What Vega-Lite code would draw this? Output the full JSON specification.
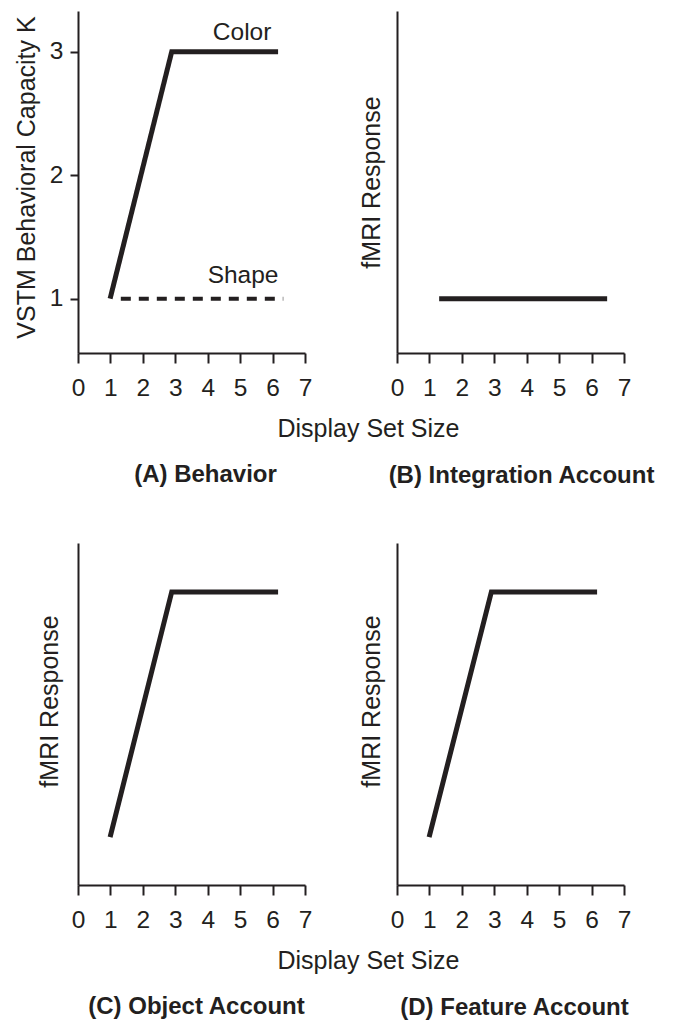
{
  "$schema": "https://vega.github.io/schema/vega-lite/v6.json",
  "background": "white",
  "padding": {"left": 14, "top": 11, "right": 5, "bottom": 5},
  "config": {
    "view": {"stroke": null},
    "font": "Liberation Sans, Arial, sans-serif",
    "axis": {
      "grid": false,
      "domainColor": "#231f20",
      "domainWidth": 2,
      "tickColor": "#231f20",
      "tickWidth": 2,
      "labelColor": "#231f20",
      "labelFont": "Liberation Sans, Arial, sans-serif",
      "labelFontSize": 24.5,
      "labelFlush": false,
      "labelOverlap": false,
      "titleColor": "#231f20",
      "titleFont": "Liberation Sans, Arial, sans-serif",
      "titleFontSize": 25,
      "titleFontWeight": "normal",
      "titleBaseline": "middle"
    },
    "title": {
      "font": "Liberation Sans, Arial, sans-serif",
      "fontSize": 24,
      "fontWeight": "bold",
      "color": "#231f20",
      "orient": "bottom",
      "anchor": "middle"
    }
  },
  "datasets": {
    "lines": [
      {"panel": "A", "series": "Color", "order": 1, "x": 0.99, "y": 1.0},
      {"panel": "A", "series": "Color", "order": 2, "x": 2.89, "y": 3.0},
      {"panel": "A", "series": "Color", "order": 3, "x": 6.17, "y": 3.0},
      {"panel": "A", "series": "Shape", "order": 1, "x": 1.32, "y": 1.0},
      {"panel": "A", "series": "Shape", "order": 2, "x": 6.33, "y": 1.0},
      {"panel": "B", "series": "Integration", "order": 1, "x": 1.3, "y": 1.0},
      {"panel": "B", "series": "Integration", "order": 2, "x": 6.48, "y": 1.0},
      {"panel": "C", "series": "Object", "order": 1, "x": 0.99, "y": 1.4},
      {"panel": "C", "series": "Object", "order": 2, "x": 2.89, "y": 8.57},
      {"panel": "C", "series": "Object", "order": 3, "x": 6.17, "y": 8.57},
      {"panel": "D", "series": "Feature", "order": 1, "x": 0.99, "y": 1.4},
      {"panel": "D", "series": "Feature", "order": 2, "x": 2.91, "y": 8.57},
      {"panel": "D", "series": "Feature", "order": 3, "x": 6.17, "y": 8.57}
    ],
    "labels": [
      {"panel": "A", "label": "Color", "x": 5.06, "y": 3.155},
      {"panel": "A", "label": "Shape", "x": 5.09, "y": 1.18}
    ]
  },
  "columns": 2,
  "bounds": "flush",
  "spacing": {"row": 190, "column": 92},
  "concat": [
    {
      "width": 227,
      "height": 342,
      "title": {"text": "(A) Behavior", "dx": 14, "dy": 18},
      "layer": [
        {
          "data": {"name": "lines"},
          "transform": [{"filter": "datum.panel === 'A'"}],
          "mark": {"type": "line", "color": "#231f20", "strokeCap": "butt"},
          "encoding": {
            "x": {"field": "x", "type": "quantitative", "scale": {"domain": [0, 7], "nice": false, "zero": false},
                  "axis": {"values": [0, 1, 2, 3, 4, 5, 6, 7], "format": "d", "tickSize": 10, "labelPadding": 13, "title": "Display Set Size", "titleX": 290, "titleY": 75, "titleAlign": "center"}},
            "y": {"field": "y", "type": "quantitative", "scale": {"domain": [0.56, 3.33], "nice": false, "zero": false},
                  "axis": {"values": [1, 2, 3], "format": "d", "tickSize": 8, "labelPadding": 7, "title": "VSTM Behavioral Capacity K", "titleX": -52, "titleY": 166, "titleAlign": "center"}},
            "order": {"field": "order"},
            "detail": {"field": "series"},
            "strokeDash": {"field": "series", "type": "nominal", "scale": {"domain": ["Color", "Shape"], "range": [[1, 0], [10, 8]]}, "legend": null},
            "strokeWidth": {"field": "series", "type": "nominal", "scale": {"domain": ["Color", "Shape"], "range": [5, 4]}, "legend": null}
          }
        },
        {
          "data": {"name": "labels"},
          "mark": {"type": "text", "color": "#231f20", "fontSize": 24.5, "baseline": "middle", "align": "center"},
          "encoding": {
            "x": {"field": "x", "type": "quantitative",
                  "axis": {"values": [0, 1, 2, 3, 4, 5, 6, 7], "format": "d", "tickSize": 10, "labelPadding": 13, "title": "Display Set Size", "titleX": 290, "titleY": 75, "titleAlign": "center"}},
            "y": {"field": "y", "type": "quantitative",
                  "axis": {"values": [1, 2, 3], "format": "d", "tickSize": 8, "labelPadding": 7, "title": "VSTM Behavioral Capacity K", "titleX": -52, "titleY": 166, "titleAlign": "center"}},
            "text": {"field": "label"}
          }
        }
      ]
    },
    {
      "width": 227,
      "height": 342,
      "title": {"text": "(B) Integration Account", "dx": 11, "dy": 60},
      "data": {"name": "lines"},
      "transform": [{"filter": "datum.panel === 'B'"}],
      "mark": {"type": "line", "color": "#231f20", "strokeWidth": 5, "strokeCap": "butt"},
      "encoding": {
        "x": {"field": "x", "type": "quantitative", "scale": {"domain": [0, 7], "nice": false, "zero": false},
              "axis": {"values": [0, 1, 2, 3, 4, 5, 6, 7], "tickSize": 10, "labelPadding": 13, "title": null}},
        "y": {"field": "y", "type": "quantitative", "scale": {"domain": [0.56, 3.33], "nice": false, "zero": false},
              "axis": {"values": [], "ticks": false, "labels": false, "title": "fMRI Response", "titleX": -26, "titleAlign": "center"}},
        "order": {"field": "order"}
      }
    },
    {
      "width": 227,
      "height": 342,
      "title": {"text": "(C) Object Account", "dx": 5, "dy": 18},
      "data": {"name": "lines"},
      "transform": [{"filter": "datum.panel === 'C'"}],
      "mark": {"type": "line", "color": "#231f20", "strokeWidth": 5, "strokeCap": "butt"},
      "encoding": {
        "x": {"field": "x", "type": "quantitative", "scale": {"domain": [0, 7], "nice": false, "zero": false},
              "axis": {"values": [0, 1, 2, 3, 4, 5, 6, 7], "tickSize": 10, "labelPadding": 13, "title": "Display Set Size", "titleX": 290, "titleY": 75, "titleAlign": "center"}},
        "y": {"field": "y", "type": "quantitative", "scale": {"domain": [0, 10], "nice": false, "zero": false},
              "axis": {"values": [], "ticks": false, "labels": false, "title": "fMRI Response", "titleX": -29, "titleY": 158, "titleAlign": "center"}},
        "order": {"field": "order"}
      }
    },
    {
      "width": 227,
      "height": 342,
      "title": {"text": "(D) Feature Account", "dx": 4, "dy": 60},
      "data": {"name": "lines"},
      "transform": [{"filter": "datum.panel === 'D'"}],
      "mark": {"type": "line", "color": "#231f20", "strokeWidth": 5, "strokeCap": "butt"},
      "encoding": {
        "x": {"field": "x", "type": "quantitative", "scale": {"domain": [0, 7], "nice": false, "zero": false},
              "axis": {"values": [0, 1, 2, 3, 4, 5, 6, 7], "tickSize": 10, "labelPadding": 13, "title": null}},
        "y": {"field": "y", "type": "quantitative", "scale": {"domain": [0, 10], "nice": false, "zero": false},
              "axis": {"values": [], "ticks": false, "labels": false, "title": "fMRI Response", "titleX": -26, "titleY": 158, "titleAlign": "center"}},
        "order": {"field": "order"}
      }
    }
  ]
}
